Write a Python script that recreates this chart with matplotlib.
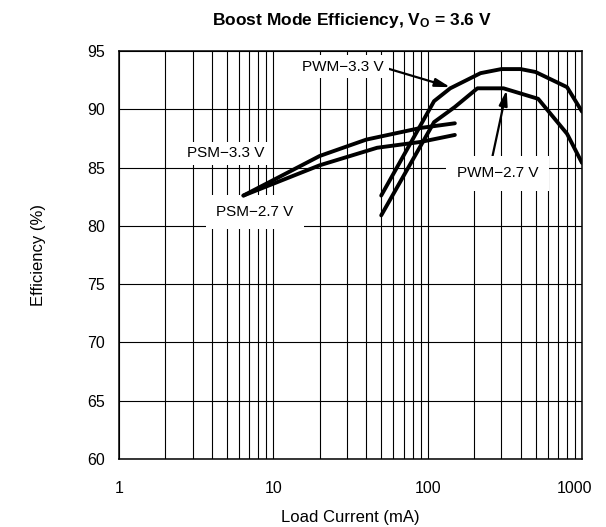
import numpy as np
import matplotlib.pyplot as plt
import matplotlib.transforms as mtransforms
from matplotlib.ticker import LogLocator, NullFormatter

plt.rcParams['font.family'] = ['Liberation Sans', 'DejaVu Sans']
plt.rcParams['mathtext.default'] = 'regular'

# load current (mA) and efficiency (%)
pwm33_x = [50, 110, 140, 220, 300, 400, 500, 800, 1000]
pwm33_y = [82.6, 90.7, 91.8, 93.1, 93.45, 93.45, 93.2, 91.9, 89.8]
pwm27_x = [50, 110, 150, 210, 310, 520, 800, 1000]
pwm27_y = [80.9, 88.9, 90.2, 91.8, 91.8, 90.9, 87.9, 85.4]
psm33_x = [6.4, 20, 40, 90, 150]
psm33_y = [82.6, 86.0, 87.4, 88.4, 88.8]
psm27_x = [6.4, 20, 47, 90, 150]
psm27_y = [82.6, 85.2, 86.7, 87.2, 87.8]

y_ticks = [60, 65, 70, 75, 80, 85, 90, 95]
x_ticks = [1, 10, 100, 1000]
x_ticklabels = ['1', '10', '100', '1000']

fig = plt.figure(figsize=(6.06, 5.27), dpi=100)
ax = fig.add_axes([0.1964, 0.129, 0.764, 0.7742])

for xs, ys in [(pwm33_x, pwm33_y), (pwm27_x, pwm27_y),
               (psm33_x, psm33_y), (psm27_x, psm27_y)]:
    ax.plot(xs, ys, color='black', lw=2.8, solid_capstyle='round', zorder=4)

ax.set_xscale('log')
ax.set_xlim(1, 1000)
ax.set_ylim(60, 95)
ax.set_yticks(y_ticks)
ax.set_xticks(x_ticks)
ax.set_xticklabels(x_ticklabels)
ax.xaxis.set_minor_locator(LogLocator(base=10, subs=np.arange(2, 10)))
ax.xaxis.set_minor_formatter(NullFormatter())

ax.set_axisbelow(True)
ax.grid(True, which='both', axis='x', color='black', lw=0.8)
ax.grid(True, which='major', axis='y', color='black', lw=0.8)
ax.tick_params(which='both', length=0)
ax.tick_params(axis='y', pad=10, labelsize=11.5)
ax.tick_params(axis='x', pad=16, labelsize=11.5)
for s in ax.spines.values():
    s.set_linewidth(1.1)

# the "1000" label sits a little left of its gridline in the original
last = ax.get_xticklabels()[-1]
last.set_transform(last.get_transform() +
                   mtransforms.ScaledTranslation(-8 / 100, 0, fig.dpi_scale_trans))

ax.set_xlabel('Load Current (mA)', fontsize=12)
ax.xaxis.set_label_coords(0.5, -0.125)
ax.set_ylabel('Efficiency (%)', fontsize=12)
ax.yaxis.set_label_coords(-0.158, 0.5)

fig.text(0.581, 1 - 20 / 527, 'Boost Mode Efficiency, V$_O$ = 3.6 V',
         ha='center', va='center', fontsize=12.5, fontweight='bold')

arrow = dict(arrowstyle='-|>,head_length=0.9,head_width=0.25', color='black',
             lw=1.6, mutation_scale=10, shrinkA=0, shrinkB=0)

ax.annotate('PWM\u22123.3 V', xy=(140, 91.9), xytext=(28.4, 93.65),
            ha='center', va='center', fontsize=11,
            bbox=dict(boxstyle='square,pad=0.3', fc='white', ec='none'),
            arrowprops=dict(arrow, relpos=(1.0, 0.45)))
ax.annotate('PWM\u22122.7 V', xy=(325, 91.65), xytext=(284, 84.5),
            ha='center', va='center', fontsize=11,
            bbox=dict(boxstyle='square,pad=0.7', fc='white', ec='none'),
            arrowprops=dict(arrow, relpos=(0.41, 1.0)))
ax.text(4.94, 86.23, 'PSM\u22123.3 V', ha='center', va='center', fontsize=11,
        bbox=dict(boxstyle='square,pad=0.3', fc='white', ec='none'))
ax.text(7.61, 81.22, 'PSM\u22122.7 V', ha='center', va='center', fontsize=11,
        bbox=dict(boxstyle='square,pad=0.65', fc='white', ec='none'))

plt.savefig('out.png', dpi=100)
